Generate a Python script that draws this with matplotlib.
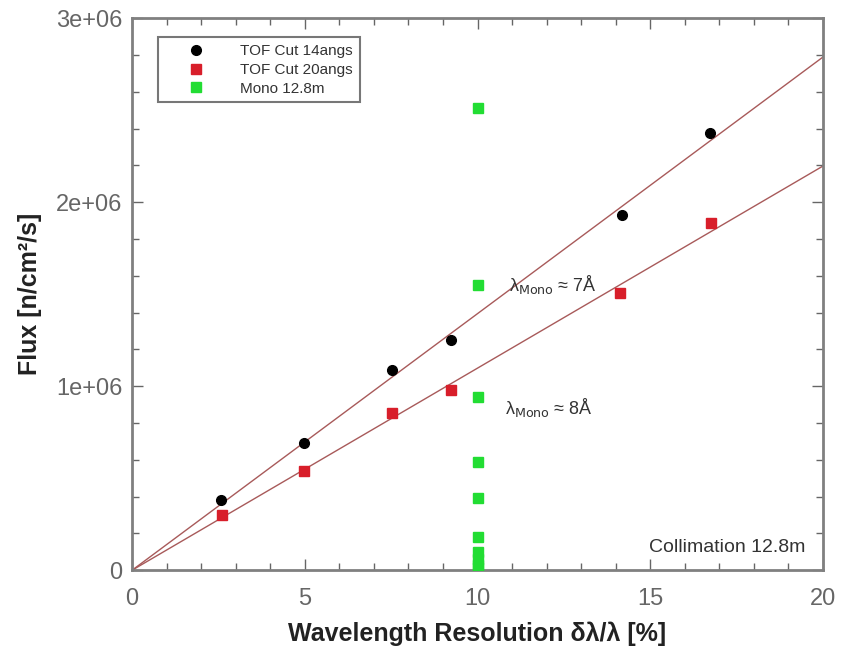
import matplotlib.pyplot as plt
import numpy as np
from matplotlib.ticker import MultipleLocator, FuncFormatter

plt.rcParams['font.family'] = ['Liberation Sans', 'DejaVu Sans']

# wavelength resolution [%] and flux [n/cm2/s]
res_14 = [2.58, 4.98, 7.53, 9.23, 14.18, 16.73]
flux_14 = [0.38e6, 0.69e6, 1.087e6, 1.25e6, 1.93e6, 2.375e6]

res_20 = [2.6, 4.98, 7.53, 9.23, 14.12, 16.76]
flux_20 = [0.30e6, 0.54e6, 0.853e6, 0.98e6, 1.505e6, 1.886e6]

res_mono = [10] * 10
flux_mono = [2.51e6, 1.55e6, 0.94e6, 0.59e6, 0.39e6, 0.18e6, 0.10e6, 0.06e6, 0.03e6, 0.01e6]

fig = plt.figure(figsize=(8.52, 6.48), dpi=100)
ax = fig.add_axes([0.155, 0.12, 0.811, 0.852])

# linear fits through the origin
xfit = np.array([0, 20])
for xs, ys in [(res_14, flux_14), (res_20, flux_20)]:
    xs = np.array(xs)
    ys = np.array(ys)
    slope = np.sum(xs * ys) / np.sum(xs * xs)
    ax.plot(xfit, slope * xfit, color='#a85a5a', lw=1.0, zorder=1)

ax.plot(res_14, flux_14, 'o', color='black', ms=7, label='TOF Cut 14angs', zorder=3)
ax.plot(res_20, flux_20, 's', color='#d81e2a', ms=6.5, label='TOF Cut 20angs', zorder=3)
ax.plot(res_mono, flux_mono, 's', color='#22dd33', ms=6.5, label='Mono 12.8m', zorder=3)

ax.set_xlim(0, 20)
ax.set_ylim(0, 3e6)
ax.xaxis.set_major_locator(MultipleLocator(5))
ax.xaxis.set_minor_locator(MultipleLocator(1))
ax.yaxis.set_major_locator(MultipleLocator(1e6))
ax.yaxis.set_minor_locator(MultipleLocator(2e5))


def sci(v, pos):
    if v == 0:
        return '0'
    return '%de+06' % round(v / 1e6)


ax.yaxis.set_major_formatter(FuncFormatter(sci))
ax.tick_params(which='both', direction='in', top=True, right=True, colors='#666666',
               labelcolor='#666666', labelsize=17)
ax.tick_params(which='major', length=8, width=1)
ax.tick_params(which='minor', length=5, width=1)
ax.tick_params(axis='x', pad=13)
ax.tick_params(axis='y', pad=7)
for s in ax.spines.values():
    s.set_color('#808080')
    s.set_linewidth(2)

ax.set_xlabel('Wavelength Resolution δλ/λ [%]', fontsize=18, fontweight='bold',
              color='#222222', labelpad=8)
ax.set_ylabel('Flux [n/cm²/s]', fontsize=18, fontweight='bold', color='#222222', labelpad=10)

ax.text(10.9, 1.52e6, 'λ$_{\\mathrm{Mono}}$ ≈ 7Å', fontsize=13, color='#333333')
ax.text(10.8, 0.85e6, 'λ$_{\\mathrm{Mono}}$ ≈ 8Å', fontsize=13, color='#333333')
ax.text(19.48, 0.1e6, 'Collimation 12.8m', fontsize=14, color='#333333', ha='right')

leg = ax.legend(loc='upper left', bbox_to_anchor=(0.038, 0.965), fontsize=11,
                frameon=True, fancybox=False, edgecolor='#555555', handletextpad=0.9,
                borderpad=0.45, labelspacing=0.3, handlelength=4.0, borderaxespad=0)
leg.get_frame().set_linewidth(1.5)
for t in leg.get_texts():
    t.set_color('#333333')

plt.savefig('out.png', dpi=100)
